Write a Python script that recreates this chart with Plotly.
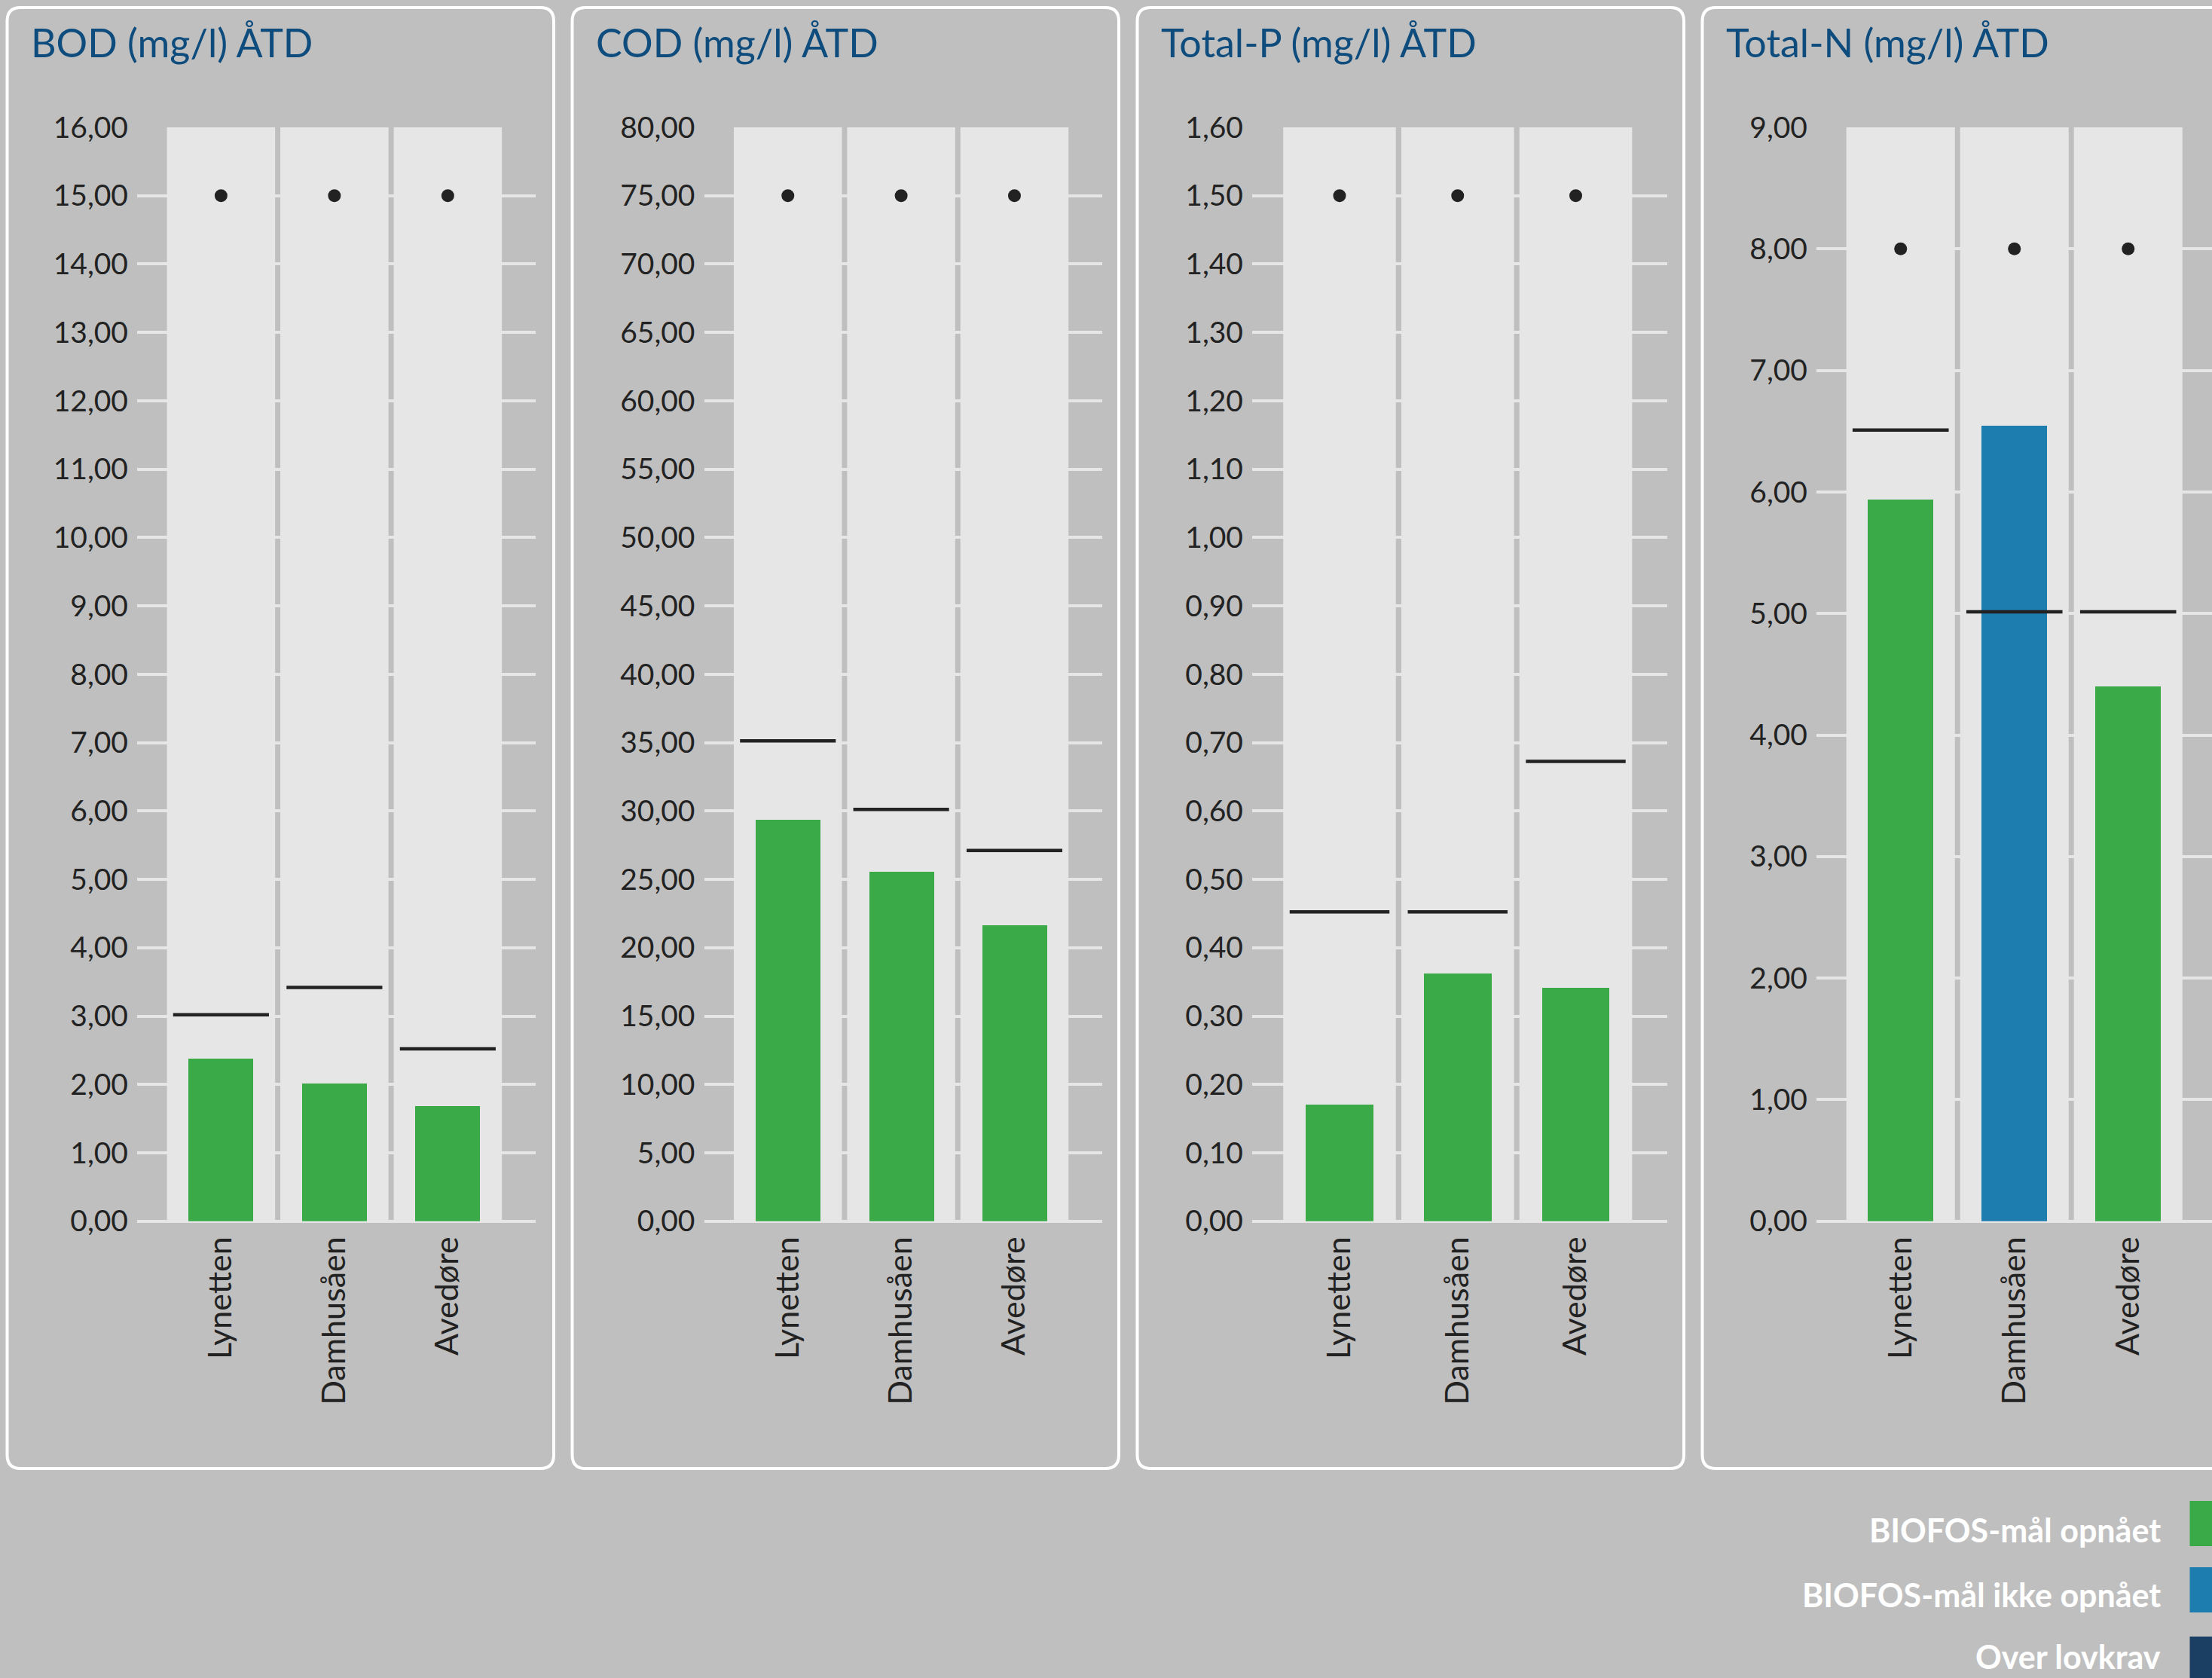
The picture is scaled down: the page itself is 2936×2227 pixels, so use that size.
import plotly.graph_objects as go

# ---- data -------------------------------------------------------------
plants = ["Lynetten", "Damhusåen", "Avedøre"]

panel_titles = ["BOD (mg/l) ÅTD", "COD (mg/l) ÅTD", "Total-P (mg/l) ÅTD", "Total-N (mg/l) ÅTD"]

# measured outlet concentration (bars)
bod_values = [2.38, 2.01, 1.68]
cod_values = [29.35, 25.55, 21.62]
tp_values = [0.171, 0.362, 0.341]
tn_values = [5.94, 6.545, 4.40]

# BIOFOS target per plant (short black line)
bod_targets = [3.02, 3.42, 2.52]
cod_targets = [35.13, 30.12, 27.11]
tp_targets = [0.4525, 0.4525, 0.6726]
tn_targets = [6.51, 5.014, 5.014]

# legal requirement per plant (black dot)
bod_limits = [15, 15, 15]
cod_limits = [75, 75, 75]
tp_limits = [1.5, 1.5, 1.5]
tn_limits = [8, 8, 8]

axis_max = [16, 80, 1.6, 9]
axis_step = [1, 5, 0.1, 1]

legend_labels = ["BIOFOS-mål opnået", "BIOFOS-mål ikke opnået", "Over lovkrav"]

# ---- styling ----------------------------------------------------------
W, H = 2936, 2227
BG = "#BFBFBF"
BAND = "#E6E6E6"
GRID = "#E6E6E6"
INK = "#222222"
TITLE = "#0E4C7D"
GREEN = "#3AAA49"
BLUE = "#1D7DAE"
NAVY = "#1A3F63"
status_colors = [GREEN, BLUE, NAVY]
FONT = "Lato"

values = [bod_values, cod_values, tp_values, tn_values]
targets = [bod_targets, cod_targets, tp_targets, tn_targets]
limits = [bod_limits, cod_limits, tp_limits, tn_limits]

# plot-area placement (pixels)
plot_left = [182, 934.5, 1662, 2411]
plot_right = [711, 1463, 2213, 2936]
x_lo = -0.74
x_hi = [2.775, 2.775, 2.775, 2.737]
y_zero_px, y_top_px = 1620.7, 169.0

panel_pitch = 750
panel_x0, panel_w = 9.5, 725.5
panel_y0, panel_y1 = 10.0, 1949.0
corner = 18

band_w = 0.954
bar_w = 0.573
target_half = 0.4225


def px(x):
    return x / W


def py(y):
    return 1 - y / H


def rounded_rect(x0, y0, x1, y1, r):
    rx, ry = r / W, r / H
    X0, X1, Y0, Y1 = px(x0), px(x1), py(y0), py(y1)
    return (f"M {X0 + rx},{Y0} L {X1 - rx},{Y0} Q {X1},{Y0} {X1},{Y0 - ry} "
            f"L {X1},{Y1 + ry} Q {X1},{Y1} {X1 - rx},{Y1} "
            f"L {X0 + rx},{Y1} Q {X0},{Y1} {X0},{Y1 + ry} "
            f"L {X0},{Y0 - ry} Q {X0},{Y0} {X0 + rx},{Y0} Z")


def bar_status(v, t, lim):
    if v > lim:
        return 2
    if v > t:
        return 1
    return 0


fig = go.Figure()
shapes = []
annotations = []
layout_axes = {}

xpos = list(range(len(plants)))

for k in range(4):
    suffix = "" if k == 0 else str(k + 1)
    xa, ya = "x" + suffix, "y" + suffix

    # panel frame
    left = panel_x0 + panel_pitch * k
    shapes.append(dict(type="path", xref="paper", yref="paper",
                       path=rounded_rect(left, panel_y0, left + panel_w, panel_y1, corner),
                       line=dict(color="white", width=4), fillcolor="rgba(0,0,0,0)",
                       layer="below"))

    # light column behind each plant
    for i in xpos:
        shapes.append(dict(type="rect", xref=xa, yref=ya + " domain",
                           x0=i - band_w / 2, x1=i + band_w / 2, y0=0, y1=1,
                           fillcolor=BAND, line=dict(width=0), layer="below"))

    # title
    annotations.append(dict(text=panel_titles[k], xref="paper", yref="paper",
                            x=px(left + 29), y=py(56), xanchor="left", yanchor="middle",
                            showarrow=False, font=dict(family=FONT, size=52, color=TITLE)))

    colors = [status_colors[bar_status(v, t, l)]
              for v, t, l in zip(values[k], targets[k], limits[k])]

    fig.add_trace(go.Bar(x=xpos, y=values[k], width=bar_w, marker=dict(color=colors, line=dict(width=0)),
                         xaxis=xa, yaxis=ya, showlegend=False))

    lx, ly = [], []
    for i, t in zip(xpos, targets[k]):
        lx += [i - target_half, i + target_half, None]
        ly += [t, t, None]
    fig.add_trace(go.Scatter(x=lx, y=ly, mode="lines", line=dict(color=INK, width=4.5),
                             xaxis=xa, yaxis=ya, showlegend=False))

    fig.add_trace(go.Scatter(x=xpos, y=limits[k], mode="markers",
                             marker=dict(color=INK, size=17, line=dict(width=0)),
                             xaxis=xa, yaxis=ya, showlegend=False))

    layout_axes["xaxis" + suffix] = dict(
        domain=[px(plot_left[k]), px(plot_right[k])], range=[x_lo, x_hi[k]],
        anchor=ya, tickmode="array", tickvals=xpos, ticktext=plants, tickangle=-90,
        showgrid=False, zeroline=False, showline=False, ticks="", automargin=False,
        ticklabelstandoff=11,
        tickfont=dict(family=FONT, size=43, color=INK), fixedrange=True)
    layout_axes["yaxis" + suffix] = dict(
        domain=[py(y_zero_px), py(y_top_px)], range=[0, axis_max[k]],
        anchor=xa, dtick=axis_step[k], tick0=0, tickformat=".2f",
        showgrid=True, gridcolor=GRID, gridwidth=4, zeroline=True, zerolinecolor=GRID,
        zerolinewidth=4, showline=False, ticks="", automargin=False,
        ticklabelstandoff=11,
        tickfont=dict(family=FONT, size=39, color=INK), fixedrange=True)

# legend: colour squares at the right edge with right-aligned labels
legend_squares = [(1992, 2052), (2080, 2140), (2172, 2232)]
legend_text_y = [2031, 2116, 2198]
for (y0, y1), ty, label, col in zip(legend_squares, legend_text_y, legend_labels, status_colors):
    shapes.append(dict(type="rect", xref="paper", yref="paper",
                       x0=px(2906.5), x1=px(2966), y0=py(y1), y1=py(y0),
                       fillcolor=col, line=dict(width=0)))
    annotations.append(dict(text=f"<b>{label}</b>", xref="paper", yref="paper",
                            x=px(2870), y=py(ty), xanchor="right", yanchor="middle",
                            showarrow=False, font=dict(family=FONT, size=43, color="white")))

fig.update_layout(
    width=W, height=H,
    margin=dict(l=0, r=0, t=0, b=0, pad=0, autoexpand=False),
    paper_bgcolor=BG, plot_bgcolor="rgba(0,0,0,0)",
    separators=",.",
    bargap=0, showlegend=False,
    shapes=shapes, annotations=annotations,
    **layout_axes,
)

fig.write_html("out.html", config={"displayModeBar": False})
